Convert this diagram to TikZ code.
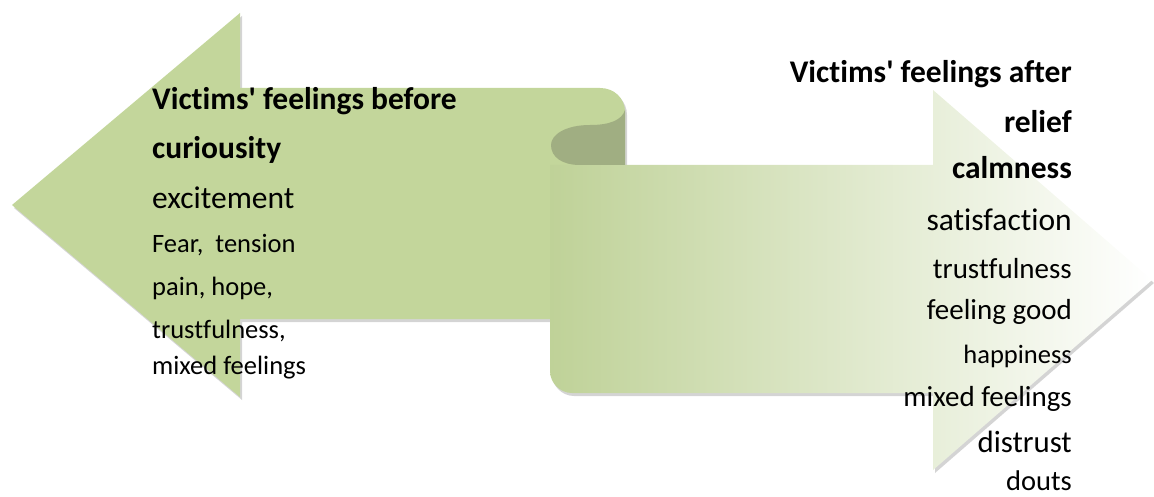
\documentclass[tikz,border=0pt]{standalone}
\usepackage{fontspec}
\setmainfont{Carlito}[Ligatures={TeXOff,NoCommon}]
\usetikzlibrary{shadows}
\definecolor{olive}{RGB}{195,214,155}
\definecolor{folddark}{RGB}{160,174,130}
\tikzset{
  x=1pt, y=-1pt,
  shapeshadow/.style={drop shadow={opacity=0.28, shadow xshift=2pt, shadow yshift=-3pt, fill=black!60}},
  txt/.style={inner sep=0pt, text=black},
  bighead/.style={txt, font=\fontsize{31.5}{36}\selectfont\bfseries},
  fs32/.style={txt, font=\fontsize{31.5}{36}\selectfont},
  fs31/.style={txt, font=\fontsize{30.8}{36}\selectfont},
  fs29/.style={txt, font=\fontsize{29}{34}\selectfont},
  fs28/.style={txt, font=\fontsize{28.5}{33}\selectfont},
  fs26/.style={txt, font=\fontsize{26.5}{31}\selectfont},
  leftline/.style={anchor=base west},
  rightline/.style={anchor=base east},
}
\begin{document}
\begin{tikzpicture}
\useasboundingbox (0,0) rectangle (1154,497);
% left arrow
\path[fill=olive, shapeshadow]
  (12,205) -- (240,13) -- (240,88) -- (600,88)
  .. controls (614,88) and (625,98) .. (625,112)
  -- (625,319) -- (240,319) -- (240,397) -- cycle;
% right arrow
\path[left color=olive!98!black, right color=white, shapeshadow]
  (550,165) -- (933,165) -- (933,90) -- (1152,280) -- (933,470) -- (933,393)
  -- (572,393) .. controls (560,393) and (550,383) .. (550,371) -- cycle;
% fold
\path[fill=folddark]
  (625,110) .. controls (622,120) and (610,125) .. (590,125)
  .. controls (565,125) and (551,135) .. (551,145)
  .. controls (551,157) and (562,165) .. (580,165) -- (625,165) -- cycle;
% left texts
\node[bighead, leftline] (l1) at (152,110) {Victims' feelings before};
\node[bighead, leftline] (l2) at (152,159) {curiousity};
\node[fs32, leftline] (l3) at (152,209) {excitement};
\node[fs26, leftline] (l4) at (152,252) {Fear,\ \ tension};
\node[fs26, leftline] (l5) at (152,295) {pain, hope,};
\node[fs26, leftline] (l6) at (152,338) {trustfulness,};
\node[fs26, leftline] (l7) at (152,374) {mixed feelings};
% right texts
\node[bighead, rightline] (r1) at (1072,83) {Victims' feelings after};
\node[bighead, rightline] (r2) at (1072,133) {relief};
\node[bighead, rightline] (r3) at (1072,179) {calmness};
\node[fs32, rightline] (r4) at (1072,231) {satisfaction};
\node[fs29, rightline] (r5) at (1072,278) {trustfulness};
\node[fs29, rightline] (r6) at (1072,319) {feeling good};
\node[fs26, rightline] (r7) at (1072,363) {happiness};
\node[fs29, rightline] (r8) at (1072,406) {mixed feelings};
\node[fs31, rightline] (r9) at (1072,452) {distrust};
\node[fs28, rightline] (r10) at (1072,490) {douts};
\end{tikzpicture}
\end{document}
